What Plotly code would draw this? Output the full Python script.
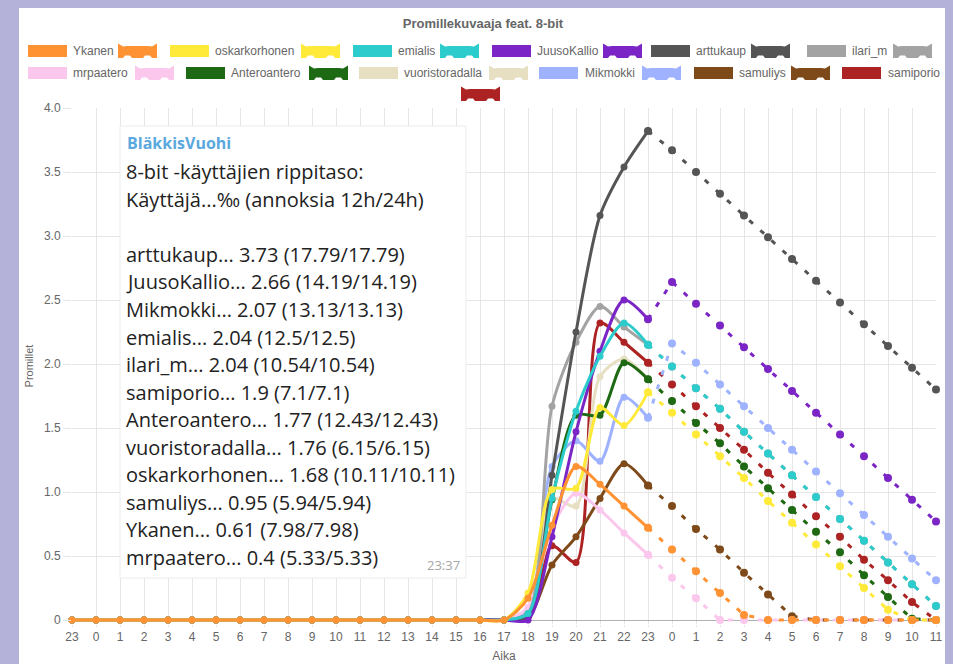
import plotly.graph_objects as go

# ---------------- data ----------------
hour_labels = ["23", "0", "1", "2", "3", "4", "5", "6", "7", "8", "9", "10", "11",
               "12", "13", "14", "15", "16", "17", "18", "19", "20", "21", "22", "23",
               "0", "1", "2", "3", "4", "5", "6", "7", "8", "9", "10", "11"]

y_tick_vals = [0, 0.5, 1.0, 1.5, 2.0, 2.5, 3.0, 3.5, 4.0]
y_tick_text = ["0", "0.5", "1.0", "1.5", "2.0", "2.5", "3.0", "3.5", "4.0"]

series_names = ["Ykanen", "oskarkorhonen", "emialis", "JuusoKallio", "arttukaup", "ilari_m",
                "mrpaatero", "Anteroantero", "vuoristoradalla", "Mikmokki", "samuliys", "samiporio"]

# measured values, labels "23" (first) .. "23" (second)
ykanen = [0, 0, 0, 0, 0, 0, 0, 0, 0, 0, 0, 0, 0, 0, 0, 0, 0, 0, 0,
          0.17, 0.74, 1.20, 1.06, 0.89, 0.72]
oskarkorhonen = [0, 0, 0, 0, 0, 0, 0, 0, 0, 0, 0, 0, 0, 0, 0, 0, 0, 0, 0,
                 0.21, 1.02, 1.03, 1.66, 1.52, 1.78]
emialis = [0, 0, 0, 0, 0, 0, 0, 0, 0, 0, 0, 0, 0, 0, 0, 0, 0, 0, 0,
           0.05, 0.95, 1.63, 2.06, 2.32, 2.15]
juusokallio = [0, 0, 0, 0, 0, 0, 0, 0, 0, 0, 0, 0, 0, 0, 0, 0, 0, 0, 0,
               0, 0.65, 1.47, 2.10, 2.50, 2.35]
arttukaup = [0, 0, 0, 0, 0, 0, 0, 0, 0, 0, 0, 0, 0, 0, 0, 0, 0, 0, 0,
             0.03, 1.13, 2.25, 3.16, 3.54, 3.82]
ilari_m = [0, 0, 0, 0, 0, 0, 0, 0, 0, 0, 0, 0, 0, 0, 0, 0, 0, 0, 0,
           0.05, 1.67, 2.17, 2.45, 2.29, 2.15]
mrpaatero = [0, 0, 0, 0, 0, 0, 0, 0, 0, 0, 0, 0, 0, 0, 0, 0, 0, 0, 0,
             0.10, 0.72, 0.99, 0.86, 0.68, 0.51]
anteroantero = [0, 0, 0, 0, 0, 0, 0, 0, 0, 0, 0, 0, 0, 0, 0, 0, 0, 0, 0,
                0.05, 0.94, 1.60, 1.60, 2.01, 1.88]
vuoristoradalla = [0, 0, 0, 0, 0, 0, 0, 0, 0, 0, 0, 0, 0, 0, 0, 0, 0, 0, 0,
                   0.05, 0.95, 0.89, 1.90, 2.04, 1.88]
mikmokki = [0, 0, 0, 0, 0, 0, 0, 0, 0, 0, 0, 0, 0, 0, 0, 0, 0, 0, 0,
            0.08, 1.20, 1.40, 1.24, 1.74, 1.58]
samuliys = [0, 0, 0, 0, 0, 0, 0, 0, 0, 0, 0, 0, 0, 0, 0, 0, 0, 0, 0,
            0.02, 0.43, 0.65, 0.95, 1.22, 1.05]
samiporio = [0, 0, 0, 0, 0, 0, 0, 0, 0, 0, 0, 0, 0, 0, 0, 0, 0, 0, 0,
             0.03, 0.58, 0.45, 2.32, 2.17, 2.01]

# projections, labels "23" (second) .. "11"
ykanen_proj = [0.72, 0.55, 0.38, 0.21, 0.04, 0, 0, 0, 0, 0, 0, 0, 0]
oskarkorhonen_proj = [1.78, 1.62, 1.45, 1.28, 1.11, 0.93, 0.76, 0.59, 0.42, 0.25, 0.08, 0, 0]
emialis_proj = [2.15, 1.98, 1.81, 1.65, 1.47, 1.30, 1.13, 0.96, 0.79, 0.62, 0.45, 0.28, 0.11]
juusokallio_proj = [2.35, 2.64, 2.47, 2.30, 2.13, 1.96, 1.79, 1.62, 1.45, 1.28, 1.11, 0.94, 0.77]
arttukaup_proj = [3.82, 3.67, 3.50, 3.33, 3.16, 2.99, 2.82, 2.65, 2.48, 2.31, 2.14, 1.97, 1.80]
ilari_m_proj = [2.15, 1.98, 1.81, 1.65, 1.47, 1.30, 1.13, 0.96, 0.79, 0.62, 0.45, 0.28, 0.11]
mrpaatero_proj = [0.51, 0.33, 0.17, 0, 0, 0, 0, 0, 0, 0, 0, 0, 0]
anteroantero_proj = [1.88, 1.71, 1.54, 1.38, 1.20, 1.03, 0.86, 0.69, 0.53, 0.35, 0.18, 0.01, 0]
vuoristoradalla_proj = [1.88, 1.71, 1.54, 1.38, 1.20, 1.03, 0.86, 0.69, 0.53, 0.35, 0.18, 0.01, 0]
mikmokki_proj = [1.58, 2.16, 2.01, 1.84, 1.67, 1.50, 1.33, 1.16, 0.99, 0.82, 0.65, 0.48, 0.31]
samuliys_proj = [1.05, 0.89, 0.71, 0.55, 0.37, 0.20, 0.03, 0, 0, 0, 0, 0, 0]
samiporio_proj = [2.01, 1.84, 1.67, 1.50, 1.33, 1.15, 0.98, 0.81, 0.65, 0.47, 0.31, 0.14, 0]

solid_values = [ykanen, oskarkorhonen, emialis, juusokallio, arttukaup, ilari_m,
                mrpaatero, anteroantero, vuoristoradalla, mikmokki, samuliys, samiporio]
proj_values = [ykanen_proj, oskarkorhonen_proj, emialis_proj, juusokallio_proj, arttukaup_proj,
               ilari_m_proj, mrpaatero_proj, anteroantero_proj, vuoristoradalla_proj,
               mikmokki_proj, samuliys_proj, samiporio_proj]

message_sender = "BläkkisVuohi"
message_lines = ["8-bit -käyttäjien rippitaso:",
                 "Käyttäjä...‰ (annoksia 12h/24h)",
                 "",
                 "arttukaup... 3.73 (17.79/17.79)",
                 "JuusoKallio... 2.66 (14.19/14.19)",
                 "Mikmokki... 2.07 (13.13/13.13)",
                 "emialis... 2.04 (12.5/12.5)",
                 "ilari_m... 2.04 (10.54/10.54)",
                 "samiporio... 1.9 (7.1/7.1)",
                 "Anteroantero... 1.77 (12.43/12.43)",
                 "vuoristoradalla... 1.76 (6.15/6.15)",
                 "oskarkorhonen... 1.68 (10.11/10.11)",
                 "samuliys... 0.95 (5.94/5.94)",
                 "Ykanen... 0.61 (7.98/7.98)",
                 "mrpaatero... 0.4 (5.33/5.33)"]
message_time = "23:37"

# ---------------- style ----------------
colors = ["#ff9233", "#ffea3a", "#2ccccc", "#7b25c6", "#555555", "#a3a3a3",
          "#fcc7ec", "#1e6914", "#e7dfc2", "#9fb2ff", "#7f4a1a", "#ad2323"]

W, H = 953, 664
ML, MR, MT, MB = 72, 17, 108, 40
PW = W - ML - MR
PH = H - MT - MB
Y_MIN = -0.03125
FONT = "Liberation Sans, Arial, sans-serif"
MSG_FONT = "Open Sans, sans-serif"


def px(xp):
    return (xp - ML) / PW


def py(yp):
    return (H - MB - yp) / PH


fig = go.Figure()

x_all = list(range(len(hour_labels)))
n_solid = len(ykanen)
x_solid = x_all[:n_solid]
x_proj = x_all[n_solid - 1:]

# Chart.js draws dataset 0 on top -> add in reverse order
for i in reversed(range(len(series_names))):
    c = colors[i]
    fig.add_trace(go.Scatter(
        x=x_proj, y=proj_values[i], mode="lines+markers", name=series_names[i] + " ennuste",
        line=dict(color=c, width=3, dash="5px,10px"),
        marker=dict(color=c, size=8), cliponaxis=False, hoverinfo="skip"))
    fig.add_trace(go.Scatter(
        x=x_solid, y=solid_values[i], mode="lines+markers", name=series_names[i],
        line=dict(color=c, width=3, shape="spline", smoothing=0.8),
        marker=dict(color=c, size=7), cliponaxis=False, hoverinfo="skip"))

shapes = []
annotations = []

# white chart canvas on the lavender page
shapes.append(dict(type="rect", xref="paper", yref="paper", layer="below",
                   x0=px(19), x1=px(945), y0=py(668), y1=py(8),
                   fillcolor="white", line=dict(width=0)))

# custom Chart.js-like legend: (box x, text x, icon x, icon y, row y)
legend_pos = [
    (28, 71, 118, 51, 51), (170, 213, 301, 51, 51), (353, 396, 440, 51, 51),
    (492, 535, 603, 51, 51), (651, 694, 751, 51, 51), (807, 850, 893, 51, 51),
    (28, 71, 135, 73, 73), (186, 229, 309, 73, 73), (359, 402, 489, 73, 73),
    (539, 583, 642, 73, 73), (694, 737, 791, 73, 73), (842, 886, 461, 94, 73),
]
BW, BH = 39, 12


def icon_path(x0, yc):
    x1 = x0 + BW
    yt = yc - 6
    yb = yc + 7
    pts = [(x0, yt - 1.5), (x0 + 5, yt + 1.5), (x0 + 9, yt + 1), (x1 - 9, yt + 1),
           (x1 - 5, yt + 1.5), (x1, yt - 1.5), (x1, yb), (x1 - 5, yb), (x1 - 7, yb - 2.5),
           (x1 - 12, yb - 2.5), (x1 - 14, yb), (x0 + 14, yb), (x0 + 12, yb - 2.5),
           (x0 + 7, yb - 2.5), (x0 + 5, yb), (x0, yb)]
    d = "M " + " L ".join(f"{px(a):.5f},{py(b):.5f}" for a, b in pts) + " Z"
    return d


for i, name in enumerate(series_names):
    bx, tx, ix, iy, ry = legend_pos[i]
    c = colors[i]
    shapes.append(dict(type="rect", xref="paper", yref="paper",
                       x0=px(bx), x1=px(bx + BW), y0=py(ry + BH / 2), y1=py(ry - BH / 2),
                       fillcolor=c, line=dict(width=0)))
    annotations.append(dict(text=name, xref="paper", yref="paper", x=px(tx), y=py(ry),
                            xanchor="left", yanchor="middle", showarrow=False,
                            font=dict(family=FONT, size=12, color="#666666")))
    shapes.append(dict(type="path", xref="paper", yref="paper", path=icon_path(ix, iy),
                       fillcolor=c, line=dict(width=0)))

# pasted chat message box
shapes.append(dict(type="rect", xref="paper", yref="paper", layer="above",
                   x0=px(120), x1=px(466), y0=py(578), y1=py(126),
                   fillcolor="white", line=dict(color="#ececec", width=1)))
annotations.append(dict(text="<b>" + message_sender + "</b>", xref="paper", yref="paper",
                        x=px(125), y=py(143), xanchor="left", yanchor="middle", showarrow=False,
                        font=dict(family=MSG_FONT, size=16, color="#5aa8de")))
for k, line in enumerate(message_lines):
    if not line:
        continue
    annotations.append(dict(text=line, xref="paper", yref="paper",
                            x=px(124), y=py(171.7 + 27.55 * k), xanchor="left",
                            yanchor="middle", showarrow=False,
                            font=dict(family=MSG_FONT, size=20, color="#222222")))
annotations.append(dict(text=message_time, xref="paper", yref="paper", x=px(462), y=py(565),
                        xanchor="right", yanchor="middle", showarrow=False,
                        font=dict(family=MSG_FONT, size=13, color="#a5a5a5")))

fig.update_layout(
    width=W, height=H,
    margin=dict(l=ML, r=MR, t=MT, b=MB, autoexpand=False),
    paper_bgcolor="#b4b2d9", plot_bgcolor="white",
    showlegend=False,
    font=dict(family=FONT, size=12, color="#666666"),
    title=dict(text="<b>Promillekuvaaja feat. 8-bit</b>", xref="container", x=483 / W,
               xanchor="center", yref="container", y=1 - 23 / H, yanchor="middle",
               font=dict(family=FONT, size=13, color="#666666")),
    xaxis=dict(range=[0, len(hour_labels) - 1], tickmode="array", tickvals=x_all,
               ticktext=hour_labels, tickangle=0, showgrid=True, gridcolor="#e6e6e6",
               zeroline=False, showline=False, ticks="outside", ticklen=2,
               tickcolor="#e6e6e6", tickfont=dict(size=12, color="#666666"),
               title=dict(text="Aika", standoff=8, font=dict(size=12, color="#666666"))),
    yaxis=dict(range=[Y_MIN, 4.0], tickmode="array", tickvals=y_tick_vals,
               ticktext=y_tick_text, showgrid=True, gridcolor="#e6e6e6",
               zeroline=True, zerolinecolor="#b0b0b0", zerolinewidth=1,
               showline=False, ticks="outside", ticklen=8, tickcolor="#e6e6e6",
               tickfont=dict(size=12, color="#666666"),
               title=dict(text="Promillet", standoff=8, font=dict(size=11, color="#666666"))),
    shapes=shapes, annotations=annotations,
)

fig.write_html("out.html", config={"displayModeBar": False},
               post_script="document.body.style.margin='0';")
